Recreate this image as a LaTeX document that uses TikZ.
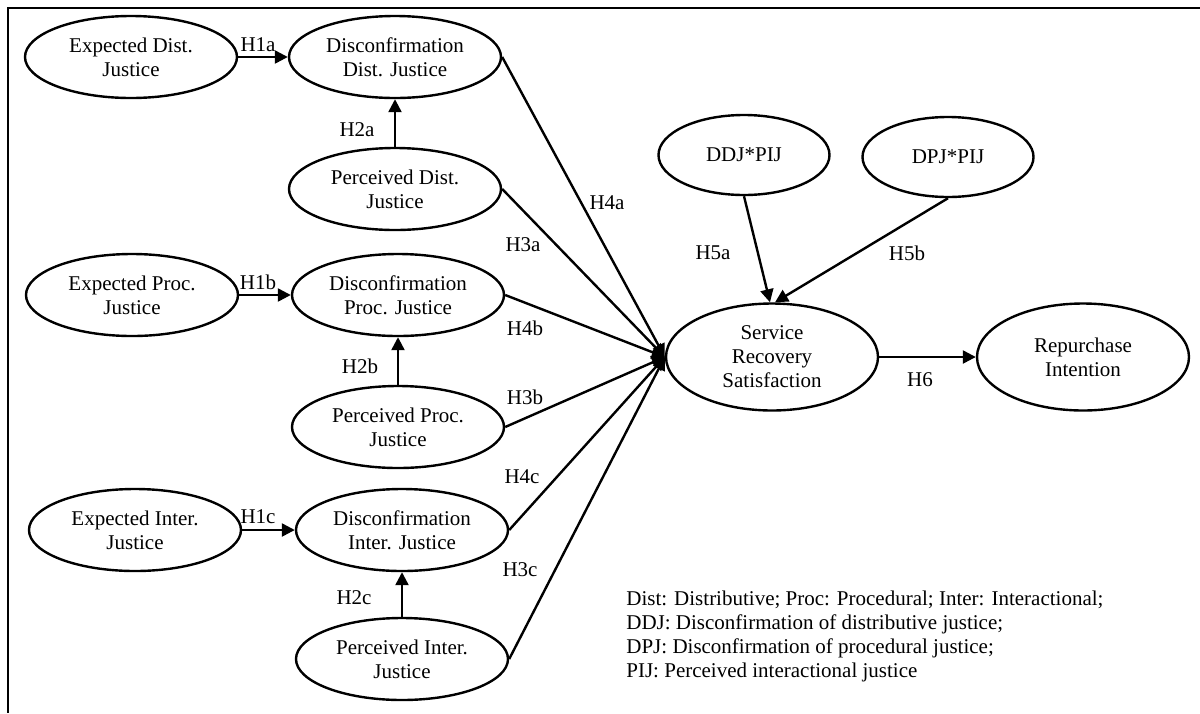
\documentclass[tikz,border=0pt]{standalone}
\usepackage{fontspec}
\setmainfont{Liberation Serif}
\usetikzlibrary{shapes.geometric,arrows.meta}
\tikzset{
  construct/.style={ellipse,draw,line width=1.2pt,inner sep=0pt,minimum width=106pt,minimum height=41pt,align=center},
  interact/.style={ellipse,draw,line width=1.2pt,inner sep=0pt,minimum width=85.5pt,minimum height=40pt},
  outcome/.style={construct,minimum height=53.5pt},
  hyp/.style={inner sep=0pt},
  link/.style={line width=1.2pt,->}
}
\begin{document}
\begin{tikzpicture}[x=0.5pt,y=-0.5pt,>={Triangle[length=6.5pt,width=6.5pt]},font=\fontsize{10.5}{12}\selectfont]
\useasboundingbox (0,0) rectangle (1200,713);
\draw[line width=0.7pt] (1200,8) -- (8,8) -- (8,713);
% distributive justice
\node[construct] (expdist) at (131,57) {Expected Dist.\\Justice};
\node[construct] (disdist) at (395,57) {Disconfirmation\\Dist. Justice};
\node[construct] (perdist) at (395,189) {Perceived Dist.\\Justice};
% procedural justice
\node[construct] (expproc) at (132,295) {Expected Proc.\\Justice};
\node[construct] (disproc) at (398,295) {Disconfirmation\\Proc. Justice};
\node[construct] (perproc) at (398,427) {Perceived Proc.\\Justice};
% interactional justice
\node[construct] (expinter) at (135,530) {Expected Inter.\\Justice};
\node[construct] (disinter) at (402,530) {Disconfirmation\\Inter. Justice};
\node[construct] (perinter) at (402,659) {Perceived Inter.\\Justice};
% moderators and outcomes
\node[interact] (ddjpij) at (744,155) {DDJ*PIJ};
\node[interact] (dpjpij) at (948,157) {DPJ*PIJ};
\node[outcome] (srs) at (772,357) {Service\\Recovery\\Satisfaction};
\node[outcome] (repur) at (1083,357) {Repurchase\\Intention};
% paths
\draw[link] (expdist) -- (disdist);
\draw[link] (perdist) -- (disdist);
\draw[link] (expproc) -- (disproc);
\draw[link] (perproc) -- (disproc);
\draw[link] (expinter) -- (disinter);
\draw[link] (perinter) -- (disinter);
\draw[link] (disdist.east) -- (srs.west);
\draw[link] (perdist.east) -- (srs.west);
\draw[link] (disproc.east) -- (srs.west);
\draw[link] (perproc.east) -- (srs.west);
\draw[link] (disinter.east) -- (srs.west);
\draw[link] (perinter.east) -- (srs.west);
\draw[link] (ddjpij.south) -- ([xshift=-1pt]srs.north);
\draw[link] (dpjpij.south) -- ([xshift=1.5pt]srs.north);
\draw[link] (srs) -- (repur);
% hypothesis labels
\node[hyp] (h1a) at (258,45) {H1a};
\node[hyp] (h2a) at (357,130) {H2a};
\node[hyp] (h3a) at (523,245) {H3a};
\node[hyp] (h4a) at (607,203) {H4a};
\node[hyp] (h1b) at (258,282) {H1b};
\node[hyp] (h2b) at (360,366) {H2b};
\node[hyp] (h3b) at (525,397) {H3b};
\node[hyp] (h4b) at (525,328) {H4b};
\node[hyp] (h1c) at (258,517) {H1c};
\node[hyp] (h2c) at (354,598) {H2c};
\node[hyp] (h3c) at (520,570) {H3c};
\node[hyp] (h4c) at (522,477) {H4c};
\node[hyp] (h5a) at (713,253) {H5a};
\node[hyp] (h5b) at (907,253) {H5b};
\node[hyp] (h6) at (920,380) {H6};
% legend
\node[inner sep=0pt,anchor=north west,align=left] (legend) at (626,591)
  {Dist: Distributive; Proc: Procedural; Inter: Interactional;\\
   DDJ: Disconfirmation of distributive justice;\\
   DPJ: Disconfirmation of procedural justice;\\
   PIJ: Perceived interactional justice};
\end{tikzpicture}
\end{document}
